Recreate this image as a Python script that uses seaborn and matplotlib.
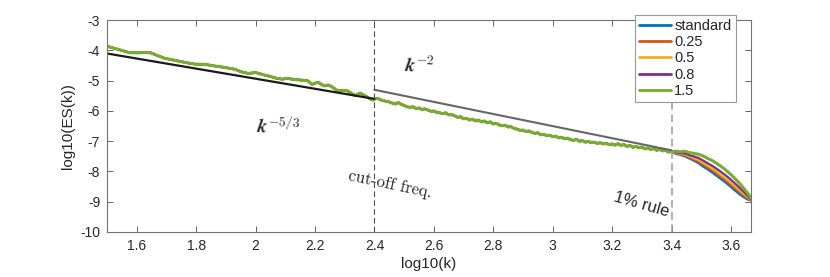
import numpy as np
import pandas as pd
import matplotlib
matplotlib.use("Agg")
import matplotlib.pyplot as plt
import seaborn as sns

# spectrum: shared part (all runs overlap up to 3.4)
base_x = [1.50, 1.525, 1.55, 1.575, 1.60, 1.625, 1.645, 1.67, 1.695, 1.72,
          1.745, 1.77, 1.795, 1.83, 1.86, 1.895, 1.93, 1.95, 1.975, 2.00,
          2.025, 2.05, 2.07, 2.09, 2.105, 2.13, 2.155, 2.175, 2.19, 2.21,
          2.23, 2.245, 2.26, 2.275, 2.29, 2.307, 2.32, 2.335, 2.352, 2.369,
          2.385, 2.397,
          2.40, 2.41, 2.42, 2.43, 2.44, 2.45, 2.46, 2.47, 2.48, 2.49,
          2.50, 2.51, 2.52, 2.53, 2.54, 2.55, 2.56, 2.57, 2.58, 2.59,
          2.60, 2.61, 2.62, 2.63, 2.64, 2.65, 2.66, 2.67, 2.68, 2.69,
          2.70, 2.71, 2.72, 2.73, 2.74, 2.75, 2.76, 2.77, 2.78, 2.79,
          2.80, 2.81, 2.82, 2.83, 2.84, 2.85, 2.86, 2.87, 2.88, 2.89,
          2.90, 2.91, 2.92, 2.93, 2.94, 2.95, 2.96, 2.97, 2.98, 2.99,
          3.00, 3.01, 3.02, 3.03, 3.04, 3.05, 3.06, 3.07, 3.08, 3.09,
          3.10, 3.11, 3.12, 3.13, 3.14, 3.15, 3.16, 3.17, 3.18, 3.19,
          3.20, 3.21, 3.22, 3.23, 3.24, 3.25, 3.26, 3.27, 3.28, 3.29,
          3.30, 3.31, 3.32, 3.33, 3.34, 3.35, 3.36, 3.37, 3.38, 3.39, 3.40]
base_y = [-3.86, -3.93, -4.00, -4.07, -4.08, -4.07, -4.07, -4.17, -4.26, -4.31,
          -4.36, -4.41, -4.45, -4.46, -4.51, -4.56, -4.62, -4.70, -4.76, -4.73,
          -4.80, -4.86, -4.92, -4.95, -4.92, -4.96, -4.98, -5.00, -5.12, -5.05,
          -5.17, -5.14, -5.22, -5.33, -5.32, -5.33, -5.40, -5.49, -5.41, -5.50,
          -5.60, -5.64,
          -5.60, -5.58, -5.63, -5.66, -5.68, -5.70, -5.74, -5.77, -5.72, -5.78,
          -5.82, -5.86, -5.88, -5.86, -5.92, -5.90, -5.95, -5.93, -5.97, -6.01,
          -6.00, -6.05, -6.06, -6.09, -6.06, -6.13, -6.12, -6.16, -6.21, -6.19,
          -6.26, -6.24, -6.30, -6.27, -6.33, -6.30, -6.36, -6.33, -6.39, -6.36,
          -6.43, -6.41, -6.46, -6.49, -6.47, -6.53, -6.52, -6.58, -6.60, -6.64,
          -6.63, -6.68, -6.66, -6.71, -6.74, -6.72, -6.79, -6.77, -6.82, -6.80,
          -6.85, -6.83, -6.89, -6.87, -6.92, -6.90, -6.95, -6.97, -6.94, -7.00,
          -6.98, -7.03, -7.01, -7.05, -7.03, -7.07, -7.05, -7.09, -7.07, -7.11,
          -7.09, -7.13, -7.08, -7.14, -7.11, -7.17, -7.14, -7.20, -7.17, -7.22,
          -7.19, -7.25, -7.22, -7.27, -7.24, -7.30, -7.27, -7.32, -7.30, -7.36, -7.34]

# high-wavenumber tails, where the runs separate
tail_x = [3.415, 3.43, 3.445, 3.46, 3.475, 3.49, 3.505, 3.52, 3.535,
          3.55, 3.565, 3.58, 3.595, 3.61, 3.625, 3.64, 3.655, 3.668]
tail_standard = [-7.42, -7.45, -7.50, -7.57, -7.64, -7.72, -7.83, -7.92, -8.02,
                 -8.13, -8.24, -8.35, -8.47, -8.60, -8.72, -8.83, -8.92, -8.96]
tail_025 = [-7.40, -7.43, -7.47, -7.53, -7.60, -7.67, -7.77, -7.86, -7.95,
            -8.06, -8.17, -8.28, -8.40, -8.53, -8.65, -8.77, -8.88, -8.95]
tail_05 = [-7.39, -7.41, -7.44, -7.50, -7.56, -7.62, -7.71, -7.80, -7.89,
           -7.99, -8.10, -8.21, -8.33, -8.46, -8.59, -8.72, -8.84, -8.93]
tail_08 = [-7.37, -7.39, -7.40, -7.46, -7.50, -7.55, -7.63, -7.72, -7.80,
           -7.90, -8.00, -8.11, -8.23, -8.36, -8.50, -8.64, -8.79, -8.92]
tail_15 = [-7.33, -7.35, -7.33, -7.38, -7.40, -7.43, -7.48, -7.56, -7.63,
           -7.72, -7.82, -7.93, -8.06, -8.20, -8.35, -8.52, -8.70, -8.88]

series = ["standard", "0.25", "0.5", "0.8", "1.5"]
tails = [tail_standard, tail_025, tail_05, tail_08, tail_15]
colors = ["#0072BD", "#D95319", "#EDB120", "#7E2F8E", "#77AC30"]

# reference slopes
k53_x = [1.5, 2.4]
k53_y = [-4.1, -5.6]
k2_x = [2.4, 3.4]
k2_y = [-5.3, -7.3]

rows = []
for name, tail in zip(series, tails):
    for x, y in zip(base_x + tail_x, base_y + tail):
        rows.append((name, x, y))
df = pd.DataFrame(rows, columns=["run", "logk", "logE"])

sns.set_theme(style="ticks")
plt.rcParams["font.family"] = ["Liberation Sans", "DejaVu Sans"]
plt.rcParams["axes.unicode_minus"] = False
plt.rcParams["mathtext.fontset"] = "cm"

fig = plt.figure(figsize=(8.3, 2.77), dpi=100)
ax = fig.add_axes([0.129, 0.1625, 0.776, 0.7645])

sns.lineplot(data=df, x="logk", y="logE", hue="run", hue_order=series,
             palette=colors, estimator=None, sort=True, linewidth=2.0, ax=ax)
# lower runs a bit thinner so the top run covers them where they coincide
for line in ax.get_lines()[:4]:
    line.set_linewidth(1.6)
ax.get_lines()[4].set_linewidth(2.2)

ax.plot(k53_x, k53_y, color="0.1", lw=1.6)
ax.plot(k2_x, k2_y, color="0.4", lw=1.5)
ax.plot([2.4, 2.4], [-10, -3], color="0.3", lw=0.8, ls=(0, (5, 3)))
ax.plot([3.4, 3.4], [-10, -3], color="0.6", lw=1.1, ls=(0, (5, 3)))

ax.text(2.076, -6.53, r"$\mathbfit{k}^{\mathbf{-5/3}}$", fontsize=14,
        ha="center", va="center", rotation=-3)
ax.text(2.551, -4.51, r"$\mathbfit{k}^{\mathbf{-2}}$", fontsize=14,
        ha="center", va="center", rotation=-3)
ax.text(2.453, -8.41, "cut-off freq.", family=["cmr10", "DejaVu Serif"],
        fontsize=12, ha="center", va="center", rotation=-12)
ax.text(3.299, -9.1, "1% rule", fontsize=12, ha="center", va="center",
        rotation=-16)

ax.set_xlim(1.5, 3.668)
ax.set_ylim(-10, -3)
ax.set_xticks([1.6, 1.8, 2.0, 2.2, 2.4, 2.6, 2.8, 3.0, 3.2, 3.4, 3.6])
ax.set_xticklabels(["1.6", "1.8", "2", "2.2", "2.4", "2.6", "2.8", "3", "3.2", "3.4", "3.6"])
ax.set_yticks([-10, -9, -8, -7, -6, -5, -4, -3])
ax.set_yticklabels(["-10", "-9", "-8", "-7", "-6", "-5", "-4", "-3"])
ax.tick_params(direction="in", length=4, width=0.7, color="0.4",
               labelsize=10, top=True, right=True, pad=5)
for s in ax.spines.values():
    s.set_color("0.45")
    s.set_linewidth(0.8)
ax.set_xlabel("log10(k)", fontsize=11, labelpad=3)
ax.set_ylabel("log10(ES(k))", fontsize=11, labelpad=4)

leg = ax.legend(loc="upper right", bbox_to_anchor=(0.976, 1.026), fontsize=10.5,
                frameon=True, fancybox=False, framealpha=1, edgecolor="0.6",
                handlelength=2.2, handletextpad=0.2, labelspacing=0.15,
                borderpad=0.3, borderaxespad=0)
leg.get_frame().set_linewidth(0.8)
for line in leg.get_lines():
    line.set_linewidth(2.0)

fig.savefig("out.png", dpi=100)
